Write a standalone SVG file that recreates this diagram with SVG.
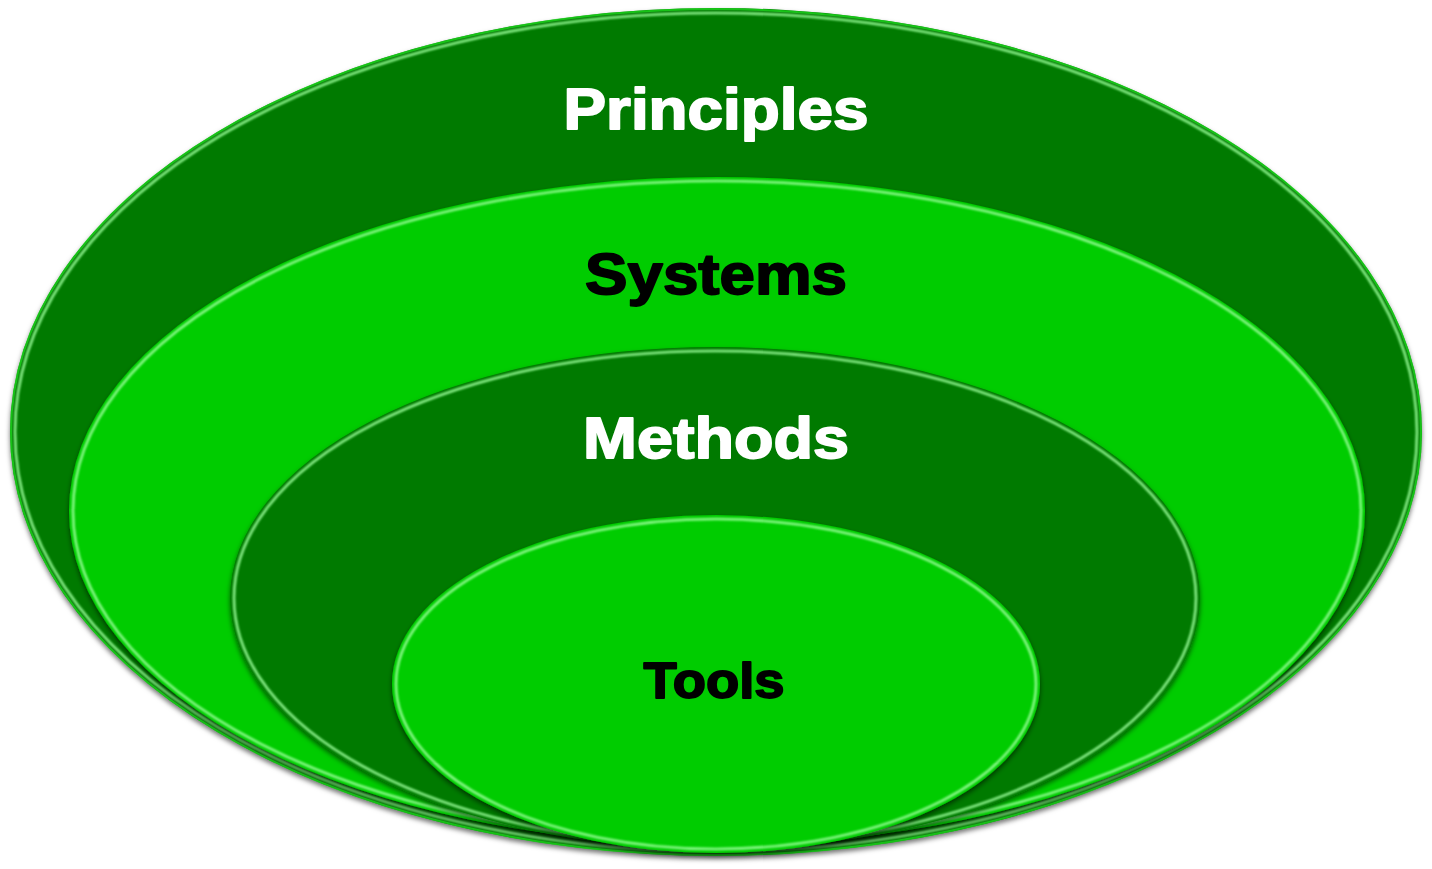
<svg xmlns="http://www.w3.org/2000/svg" width="1432" height="869" viewBox="0 0 1432 869">
<defs>
<filter id="sh" x="-5%" y="-5%" width="110%" height="115%">
<feDropShadow dx="0" dy="3" stdDeviation="2.5" flood-color="#000" flood-opacity="0.55"/>
</filter>
<filter id="soft" x="-5%" y="-5%" width="110%" height="110%">
<feGaussianBlur stdDeviation="0.8"/>
</filter>
</defs>
<style>
.dark{fill:#007a00}
.bright{fill:#00cc00}
.rim{fill:none;stroke:#9cff9c;stroke-width:2.6;opacity:0.9}
.edge{fill:none;stroke:#1fe01f;stroke-width:2;opacity:0.7}
.lbl{font-family:"Liberation Sans",Arial,sans-serif;font-weight:bold;text-anchor:middle;stroke-width:1.8;stroke-linejoin:round}
.w{fill:#fff;stroke:#fff}
.k{fill:#000;stroke:#000}
</style>
<g id="principles">
<ellipse class="dark" cx="716" cy="432" rx="706" ry="424" filter="url(#sh)"/>
<ellipse class="edge" cx="716" cy="432" rx="705" ry="423"/>
<ellipse class="rim" cx="716" cy="432" rx="701" ry="419" filter="url(#soft)"/>
<text class="lbl w" x="716" y="129" font-size="57" textLength="305" lengthAdjust="spacingAndGlyphs">Principles</text>
</g>
<g id="systems">
<ellipse class="bright" cx="717" cy="511" rx="648" ry="334" filter="url(#sh)"/>
<ellipse class="rim" cx="717" cy="511" rx="644" ry="330" filter="url(#soft)"/>
<text class="lbl k" x="716" y="294" font-size="57" textLength="262" lengthAdjust="spacingAndGlyphs">Systems</text>
</g>
<g id="methods">
<ellipse class="dark" cx="715" cy="598" rx="485" ry="251" filter="url(#sh)"/>
<ellipse class="rim" cx="715" cy="598" rx="481" ry="247" filter="url(#soft)"/>
<text class="lbl w" x="716" y="458" font-size="58" textLength="266" lengthAdjust="spacingAndGlyphs">Methods</text>
</g>
<g id="tools">
<ellipse class="bright" cx="716" cy="684" rx="324" ry="169" filter="url(#sh)"/>
<ellipse class="rim" cx="716" cy="684" rx="320" ry="165" filter="url(#soft)"/>
<text class="lbl k" x="714" y="698" font-size="50" textLength="141" lengthAdjust="spacingAndGlyphs">Tools</text>
</g>
<g id="connectors"/>
</svg>
